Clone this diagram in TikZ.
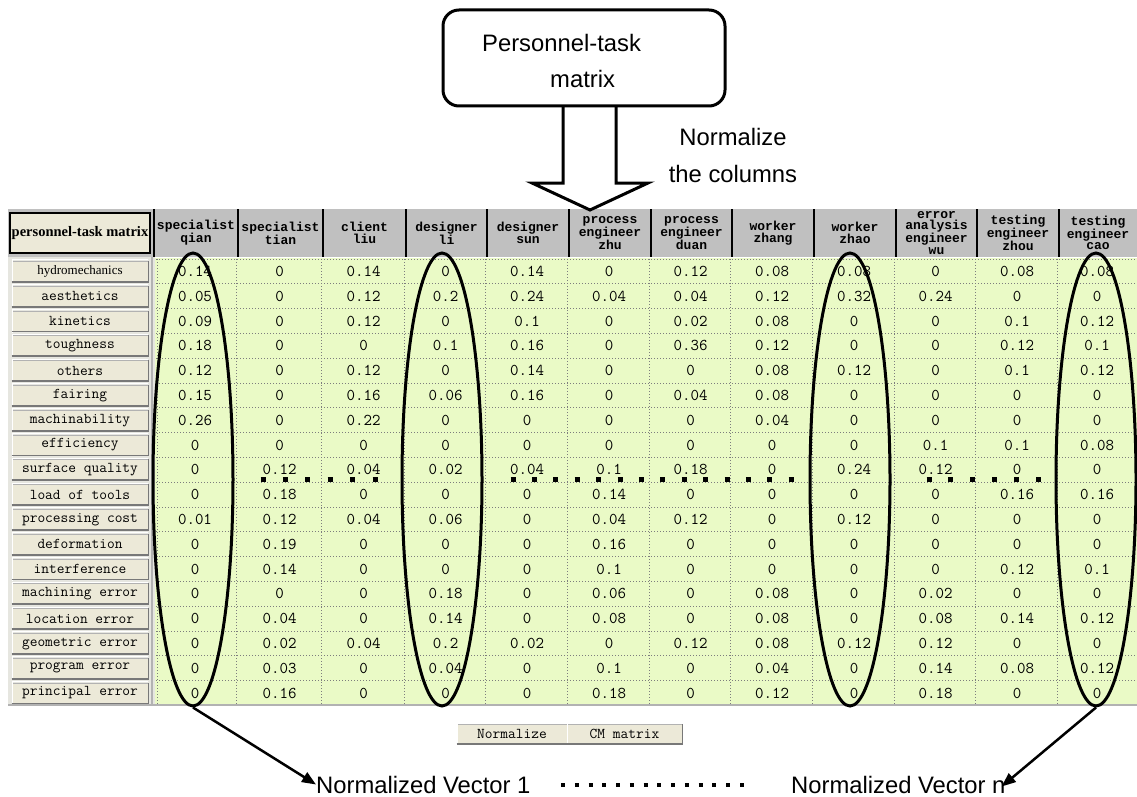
\documentclass[tikz,border=0pt]{standalone}
\usepackage{fontspec}
\setmainfont{Liberation Sans}
\newfontfamily\hdrfont{Liberation Mono}
\newfontfamily\serffont{Liberation Serif}
\usetikzlibrary{shapes.geometric,arrows.meta}
\definecolor{hdrgray}{RGB}{192,192,192}
\definecolor{cellgreen}{RGB}{234,250,198}
\definecolor{btnbeige}{RGB}{236,233,216}
\definecolor{panelgray}{RGB}{230,230,224}
\definecolor{gridgray}{RGB}{125,125,125}
\definecolor{btnshade}{RGB}{120,120,120}
\begin{document}
\begin{tikzpicture}[x=1pt,y=-1pt,
  hdrtext/.style={font=\hdrfont\bfseries\fontsize{13}{11.5}\selectfont, align=center, inner sep=0pt},
  cellnum/.style={font=\ttfamily\fontsize{16.5}{16.5}\selectfont, inner sep=0pt},
  lbl/.style={font=\ttfamily\fontsize{15}{15}\selectfont, inner sep=0pt},
  btnbox/.style={fill=btnbeige, draw=gray!60, line width=1pt, inner sep=0pt},
  annot/.style={font=\fontsize{23.8}{36}\selectfont, inner sep=0pt},
  ovalmark/.style={draw=black, ellipse, line width=3pt, minimum width=80pt, minimum height=453pt, inner sep=0pt},
  gridline/.style={gridgray, line width=1pt, dash pattern=on 1pt off 2pt},
  vecarrow/.style={line width=2.5pt, -{Triangle[length=14pt,width=11pt]}}
]
\useasboundingbox (0,0) rectangle (1137,797);
\fill[white] (0,0) rectangle (1137,797);
\def\colb{{154,238,323,406,487,569,651,732,814,896,977,1059,1137}}

% header
\fill[hdrgray] (8,209) rectangle (1137,257);
\node[draw=black, line width=1.5pt, fill=btnbeige, minimum width=140pt, minimum height=40pt, inner sep=0pt,
  font=\serffont\bfseries\fontsize{14.5}{14.5}\selectfont] (hl) at (80,233) {personnel-task matrix};
\foreach \t [count=\c from 0] in {{specialist\\qian},{specialist\\tian},{client\\liu},{designer\\li},{designer\\sun},
  {process\\engineer\\zhu},{process\\engineer\\duan},{worker\\zhang},{worker\\zhao},{error\\analysis\\engineer\\wu},
  {testing\\engineer\\zhou},{testing\\engineer\\cao}}{
  \pgfmathtruncatemacro\cn{\c+1}
  \pgfmathsetmacro\xl{\colb[\c]}
  \pgfmathsetmacro\xr{\colb[\cn]}
  \node[hdrtext] (h-\c) at ({(\xl+\xr)/2},233) {\t};
  \draw[black, line width=2pt] (\xl,209) -- (\xl,257);
}

% label panel and data area
\fill[panelgray] (8,257) rectangle (155,705);
\draw[gray!60, line width=2pt] (152,257) -- (152,705);
\fill[cellgreen] (155,258) rectangle (1137,705);
\foreach \k in {0,...,18}{
  \draw[gridline] (156,{259+\k*24.8}) -- (1137,{259+\k*24.8});
}
\foreach \k in {0,...,11}{
  \pgfmathsetmacro\xl{\colb[\k]}
  \pgfmathsetmacro\xv{\k==0 ? 157 : \xl-2}
  \draw[gridline] (\xv,259) -- (\xv,705);
}

% row labels
\foreach \t [count=\r from 0] in {{\serffont\fontsize{13}{13}\selectfont hydromechanics},aesthetics,kinetics,toughness,others,fairing,
  machinability,efficiency,surface quality,load of tools,processing cost,deformation,interference,
  machining error,location error,geometric error,program error,principal error}{
  \pgfmathsetmacro\yc{259+(\r+0.5)*24.8}
  \node[btnbox, lbl, minimum width=136pt, minimum height=20pt] (l-\r) at (80,\yc) {\t};
  \draw[white, line width=1pt] ([shift={(1pt,-1pt)}]l-\r.south west) |- ([shift={(-1pt,1pt)}]l-\r.north east);
  \draw[btnshade, line width=1.8pt] (l-\r.south west) -| (l-\r.north east);
}

% data
\foreach \row [count=\r from 0] in {
  {0.14,0,0.14,0,0.14,0,0.12,0.08,0.08,0,0.08,0.08},
  {0.05,0,0.12,0.2,0.24,0.04,0.04,0.12,0.32,0.24,0,0},
  {0.09,0,0.12,0,0.1,0,0.02,0.08,0,0,0.1,0.12},
  {0.18,0,0,0.1,0.16,0,0.36,0.12,0,0,0.12,0.1},
  {0.12,0,0.12,0,0.14,0,0,0.08,0.12,0,0.1,0.12},
  {0.15,0,0.16,0.06,0.16,0,0.04,0.08,0,0,0,0},
  {0.26,0,0.22,0,0,0,0,0.04,0,0,0,0},
  {0,0,0,0,0,0,0,0,0,0.1,0.1,0.08},
  {0,0.12,0.04,0.02,0.04,0.1,0.18,0,0.24,0.12,0,0},
  {0,0.18,0,0,0,0.14,0,0,0,0,0.16,0.16},
  {0.01,0.12,0.04,0.06,0,0.04,0.12,0,0.12,0,0,0},
  {0,0.19,0,0,0,0.16,0,0,0,0,0,0},
  {0,0.14,0,0,0,0.1,0,0,0,0,0.12,0.1},
  {0,0,0,0.18,0,0.06,0,0.08,0,0.02,0,0},
  {0,0.04,0,0.14,0,0.08,0,0.08,0,0.08,0.14,0.12},
  {0,0.02,0.04,0.2,0.02,0,0.12,0.08,0.12,0.12,0,0},
  {0,0.03,0,0.04,0,0.1,0,0.04,0,0.14,0.08,0.12},
  {0,0.16,0,0,0,0.18,0,0.12,0,0.18,0,0}}{
  \pgfmathsetmacro\yc{259+(\r+0.5)*24.8}
  \foreach \v [count=\c from 0] in \row {
    \pgfmathtruncatemacro\cn{\c+1}
    \pgfmathsetmacro\xl{\colb[\c]}
    \pgfmathsetmacro\xr{\colb[\cn]}
    \node[cellnum] (c-\r-\c) at ({(\xl+\xr)/2-1},\yc) {\v};
  }
}
\draw[gray!60, line width=2pt] (8,705) -- (1137,705);

% bottom buttons
\node[btnbox, font=\ttfamily\fontsize{15}{15}\selectfont, minimum width=110pt, minimum height=19pt] (bn) at (512,734) {Normalize};
\node[btnbox, font=\ttfamily\fontsize{15}{15}\selectfont, minimum width=115pt, minimum height=19pt] (bc) at (624.5,734) {CM matrix};
\foreach \b in {bn,bc}{
  \draw[white, line width=1pt] ([shift={(1pt,-1pt)}]\b.south west) |- ([shift={(-1pt,1pt)}]\b.north east);
  \draw[btnshade, line width=1.5pt] (\b.south west) -| (\b.north east);
}

% ovals around selected columns
\node[ovalmark] (e1) at (193,479.5) {};
\node[ovalmark] (e2) at (442,479.5) {};
\node[ovalmark] (e3) at (850,479.5) {};
\node[ovalmark] (e4) at (1096,479.5) {};

% square dotted lines across surface quality row
\draw[line width=5pt, dash pattern=on 5pt off 17.4pt] (260.5,479) -- (378,479);
\draw[line width=5pt, dash pattern=on 5pt off 16.4pt] (510.5,479) -- (794,479);
\draw[line width=5pt, dash pattern=on 5pt off 16.9pt] (926.5,479) -- (1041.5,479);

% top box and hollow arrow
\coordinate (tip) at (590,210);
\draw[line width=3pt, line join=miter] (563,106) -- (563,183) -- (532,183) -- (tip) -- (648,183) -- (616,183) -- (616,106);
\node[draw=black, line width=3pt, rounded corners=16pt, minimum width=282pt, minimum height=96pt, fill=white] (box) at (584,58) {};
\node[annot, anchor=base west] (bt1) at (482,52) {Personnel-task};
\node[annot, anchor=base west] (bt2) at (550,88) {matrix};
\node[annot, anchor=base] (nc1) at (733,146) {Normalize};
\node[annot, anchor=base] (nc2) at (733,182) {the columns};

% bottom labels
\node[annot, anchor=base west] (v1) at (316,793) {Normalized Vector 1};
\node[annot, anchor=base west] (vn) at (791,793) {Normalized Vector n};
\draw[line width=4pt, dash pattern=on 4pt off 9.77pt] (561,785) -- (745,785);
\draw[vecarrow] (e1.south) -- (v1.west);
\draw[vecarrow] (e4.south) -- ([xshift=-4pt,yshift=-2pt]vn.east);
\end{tikzpicture}
\end{document}
